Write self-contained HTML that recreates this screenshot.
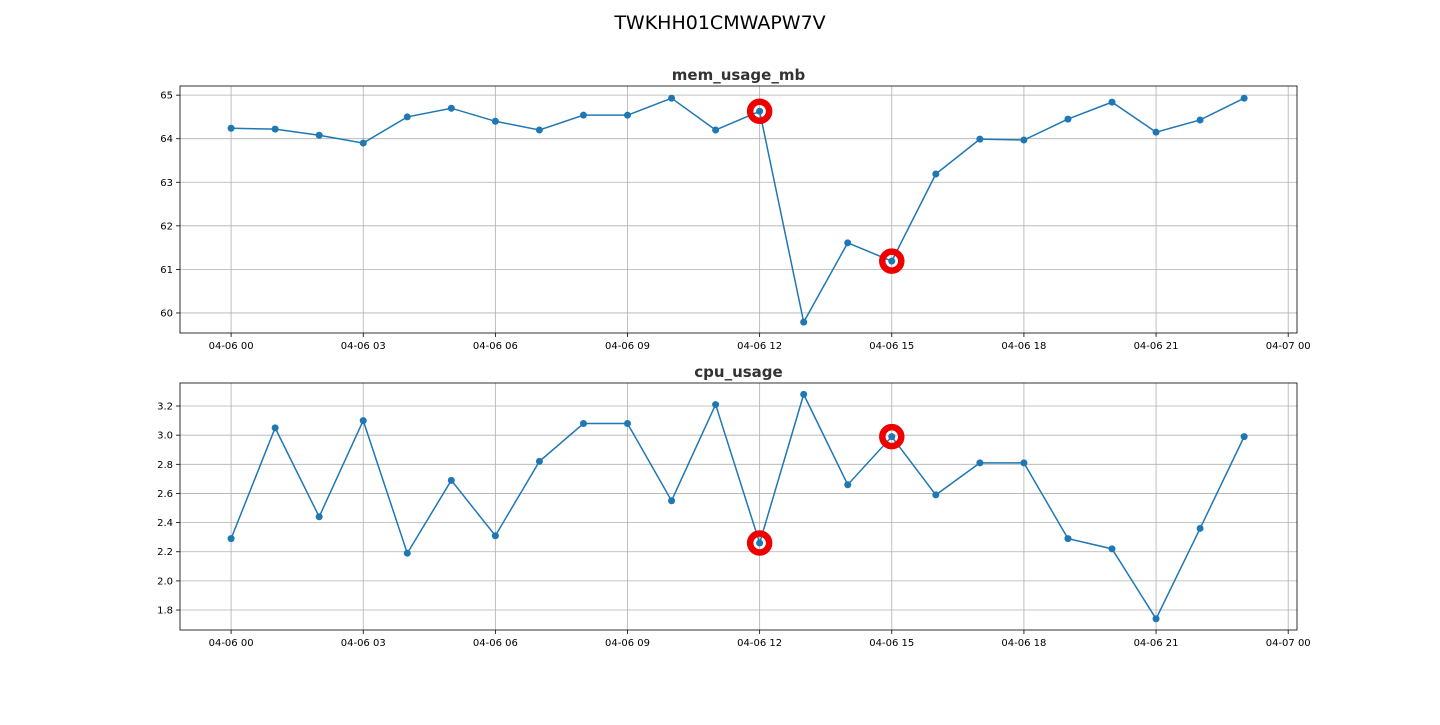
<!DOCTYPE html>
<html><head><meta charset="utf-8"><style>
body{margin:0;background:#fff;font-family:"Liberation Sans","DejaVu Sans",sans-serif;}
svg text{font-family:"DejaVu Sans","Liberation Sans",sans-serif;}
</style></head><body>
<svg id="chart" width="1440" height="720" xmlns="http://www.w3.org/2000/svg">
<rect width="1440" height="720" fill="#fff"/>
<text x="720" y="29" text-anchor="middle" font-size="19" fill="#000">TWKHH01CMWAPW7V</text>
</svg>
<script>
const hours = [0,1,2,3,4,5,6,7,8,9,10,11,12,13,14,15,16,17,18,19,20,21,22,23];
const memValues = [64.24,64.22,64.08,63.90,64.50,64.70,64.40,64.20,64.54,64.54,64.93,64.20,64.63,59.79,61.61,61.19,63.19,63.99,63.97,64.45,64.84,64.15,64.43,64.93];
const cpuValues = [2.29,3.05,2.44,3.10,2.19,2.69,2.31,2.82,3.08,3.08,2.55,3.21,2.26,3.28,2.66,2.99,2.59,2.81,2.81,2.29,2.22,1.74,2.36,2.99];
const anomalyHours = [12,15];
const xTickHours = [0,3,6,9,12,15,18,21,24];
const xTickLabels = ["04-06 00","04-06 03","04-06 06","04-06 09","04-06 12","04-06 15","04-06 18","04-06 21","04-07 00"];
const memTicks = [60,61,62,63,64,65];
const cpuTicks = [1.8,2.0,2.2,2.4,2.6,2.8,3.0,3.2];

const NS="http://www.w3.org/2000/svg";
const svg=document.getElementById('chart');
function mk(tag,attrs,parent){const e=document.createElementNS(NS,tag);for(const k in attrs)e.setAttribute(k,attrs[k]);(parent||svg).appendChild(e);return e;}

function panel(name,title,vals,ticks,tickFmt,top,bottom,ymin,ymax){
  const L=180,R=1297,xmin=-1.16,xmax=24.2;
  const g=mk('g',{});
  
  
  const X=h=>L+(h-xmin)/(xmax-xmin)*(R-L);
  const Y=v=>bottom-(v-ymin)/(ymax-ymin)*(bottom-top);
  xTickHours.forEach((h,i)=>{
    const x=X(h);
    const gl=mk('line',{x1:x,x2:x,y1:top,y2:bottom,stroke:'#b0b0b0','stroke-width':0.8},g);
    
    
    mk('line',{x1:x,x2:x,y1:bottom,y2:bottom+4,stroke:'#000','stroke-width':0.8},g);
    const t=mk('text',{x:x,y:bottom+16,'text-anchor':'middle','font-size':10,fill:'#000'},g);
    t.textContent=xTickLabels[i];
    
    
  });
  ticks.forEach(v=>{
    const y=Y(v);
    const gl=mk('line',{x1:L,x2:R,y1:y,y2:y,stroke:'#b0b0b0','stroke-width':0.8},g);
    
    
    mk('line',{x1:L-4,x2:L,y1:y,y2:y,stroke:'#000','stroke-width':0.8},g);
    const t=mk('text',{x:L-7,y:y+3.5,'text-anchor':'end','font-size':10,fill:'#000'},g);
    t.textContent=tickFmt(v);
    
    
  });
  const ax=mk('rect',{x:L,y:top,width:R-L,height:bottom-top,fill:'none',stroke:'#000','stroke-width':0.8},g);
  
  
  const tt=mk('text',{x:(L+R)/2,y:top-6,'text-anchor':'middle','font-size':15,'font-weight':'bold',fill:'#333'},g);
  tt.textContent=title;
  
  
  const pts=hours.map((h,i)=>X(h)+','+Y(vals[i])).join(' ');
  const ln=mk('polyline',{points:pts,fill:'none',stroke:'#1f77b4','stroke-width':1.5},g);
  
  
  hours.forEach((h,i)=>{
    const c=mk('circle',{cx:X(h),cy:Y(vals[i]),r:3.5,fill:'#1f77b4'},g);
    
    
  });
  anomalyHours.forEach(h=>{
    const i=hours.indexOf(h);
    const c=mk('circle',{cx:X(h),cy:Y(vals[i]),r:9.5,fill:'none',stroke:'#ee0000','stroke-width':6.5},g);
    
    
  });
}
panel('mem-usage','mem_usage_mb',memValues,memTicks,v=>String(v),86,333,59.54,65.21);
panel('cpu-usage','cpu_usage',cpuValues,cpuTicks,v=>v.toFixed(1),383,630,1.663,3.358);
</script>
</body></html>
